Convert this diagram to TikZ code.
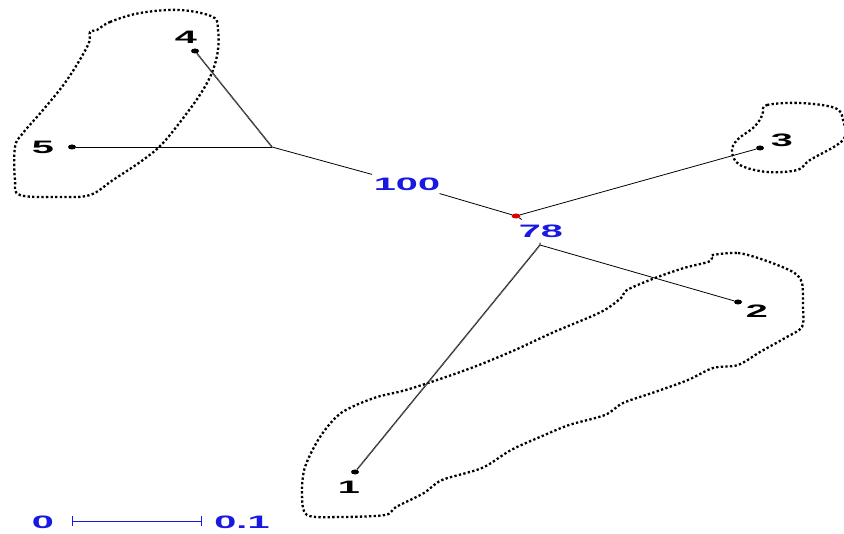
\documentclass[tikz,border=0pt]{standalone}
\usepackage{fontspec}
\setmainfont{Liberation Sans}
\usetikzlibrary{arrows.meta,shapes.geometric}
\definecolor{lblblue}{RGB}{25,25,225}
\tikzset{
  lbl/.style={font=\fontsize{18}{18}\selectfont\bfseries, inner sep=0pt},
  bootlbl/.style={lbl, text=lblblue, fill=white, inner xsep=18pt, inner ysep=3pt},
  leaf/.style={ellipse, fill=black, minimum width=8pt, minimum height=5pt, inner sep=0pt},
  branch/.style={line width=0.8pt, black},
  longbranch/.style={line width=1.5pt, black!85, dash pattern=on 1pt off 0.5pt},
  hull/.style={line width=2.3pt, dash pattern=on 2.3pt off 2.3pt, black},
}
\newcommand{\widetxt}[1]{\scalebox{2.2}[1]{#1}}
\begin{document}
\begin{tikzpicture}[x=1pt,y=-1pt]
\useasboundingbox (0,0) rectangle (844,534);
\fill[white] (0,0) rectangle (844,534);

% hulls
\draw[hull] plot[smooth cycle, tension=0.6] coordinates {
 (97,30) (110,22) (140,13) (180,10) (213,17) (218,30) (218,50) (213,70) (203,90)
 (187,113) (163,143) (143,160) (113,180) (90,195) (60,197) (20,195) (15,180)
 (15,147) (23,133) (43,110) (67,80) (88,45) (90,32)};
\draw[hull] plot[smooth cycle, tension=0.6] coordinates {
 (763,112) (767,105) (800,103) (835,108) (843,120) (843,140) (810,160) (797,170)
 (767,172) (740,165) (732,152) (737,140) (753,128) (761,118)};
\draw[hull] plot[smooth cycle, tension=0.5] coordinates {
 (713,255) (738,253) (764,260) (793,272) (802,283) (803,307) (802,327) (785,338)
 (760,352) (738,365) (713,368) (688,380) (655,392) (623,403) (605,415) (569,425)
 (540,437) (511,450) (482,468) (442,480) (424,493) (396,507) (385,515) (341,517)
 (307,515) (302,493) (305,467) (320,437) (341,413) (374,398) (406,390) (446,377)
 (479,365) (515,350) (554,332) (601,312) (621,298) (627,290) (655,278) (684,268)
 (708,262) (712,258)};

% tree nodes
\node[leaf] (n4) at (195,51) {};
\node[leaf] (n5) at (72,147) {};
\node[leaf] (n3) at (760,148) {};
\node[leaf] (n2) at (738,302) {};
\node[leaf] (n1) at (355,472) {};
\coordinate (A) at (272,147);
\coordinate (B) at (540,245);
\node[ellipse, fill=red!85!black, minimum width=9pt, minimum height=5pt, inner sep=0pt] (root) at (516,216) {};

\node[bootlbl] (b100) at (407,184) {\widetxt{100}};
\node[bootlbl, inner xsep=2pt, inner ysep=5pt] (b78) at (541,231) {\widetxt{78}};

\draw[branch] (n5) -- (A);
\draw[longbranch] (n4) -- (A);
\draw[branch] (A) -- (b100) -- (root);
\draw[branch] (root) -- (n3);
\draw[branch] (root) -- (b78) -- (B);
\draw[branch] (B) -- (n2);
\draw[longbranch] (B) -- (n1);

% leaf labels
\node[lbl] (l4) at (186,37) {\widetxt{4}};
\node[lbl] (l5) at (43,147) {\widetxt{5}};
\node[lbl] (l3) at (782,140) {\widetxt{3}};
\node[lbl] (l2) at (757,311) {\widetxt{2}};
\node[lbl] (l1) at (349,487) {\widetxt{1}};

% scale bar
\node[lbl, text=lblblue] (s0l) at (43,522) {\widetxt{0}};
\node[lbl, text=lblblue] (s1l) at (242,522) {\widetxt{0.1}};
\coordinate (s0) at (72,521);
\coordinate (s1) at (202,521);
\draw[lblblue, line width=0.9pt, {Bar[width=10pt]}-{Bar[width=10pt]}] (s0) -- (s1);
\end{tikzpicture}
\end{document}
